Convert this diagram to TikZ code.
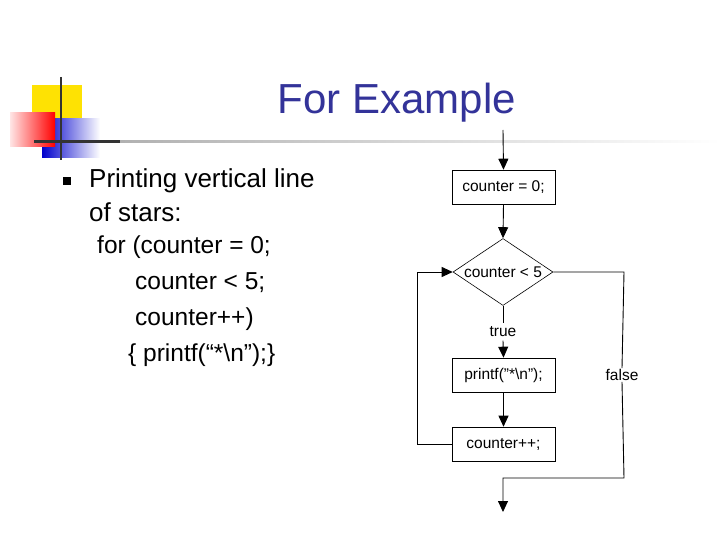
\documentclass[tikz,border=0pt]{standalone}
\usepackage{fontspec}
\setmainfont{Liberation Sans}
\usetikzlibrary{arrows.meta,shapes.geometric}
\definecolor{ttl}{RGB}{51,51,153}
\begin{document}
\begin{tikzpicture}[x=1pt,y=-1pt,
  box/.style={draw,line width=0.6pt,minimum width=103pt,minimum height=34pt,inner sep=0pt,font=\fontsize{15.5}{17}\selectfont},
  dia/.style={draw,diamond,line width=0.6pt,minimum width=100pt,minimum height=67pt,inner sep=0pt,aspect=1.5,font=\fontsize{15.5}{17}\selectfont},
  arr/.style={line width=0.9pt,-{Triangle[length=11pt,width=10pt]}},
  ln/.style={line width=0.9pt},
  lbl/.style={font=\fontsize{15.5}{17}\selectfont}]
\useasboundingbox (0,0) rectangle (720,540);
% logo
\fill[yellow!85!orange] (32,85) rectangle (82,118);
\shade[left color=blue!80!black,right color=white] (42,119) rectangle (100,158);
\shade[left color=red!10,right color=red] (10,113) rectangle (55,147);
\shade[left color=gray!70,right color=white] (34,140.5) rectangle (720,142.5);
\draw[line width=2.5pt,black!80] (34,141.5) -- (120,141.5);
\draw[line width=2.5pt,black!80] (61,77) -- (61,160);
% title
\node[ttl,font=\fontsize{42}{46}\selectfont] (title) at (397,103) {For Example};
\fill[black] (63,177) rectangle (71,185);
\node[anchor=west,align=left,font=\fontsize{26}{34}\selectfont,inner sep=0pt] (t1) at (89,195) {Printing vertical line\\of stars:};
\node[anchor=north west,align=left,font=\fontsize{24.5}{36}\selectfont,inner sep=0pt] (t2) at (97,236)
 {for (counter = 0;\\\hspace*{38pt}counter < 5;\\\hspace*{38pt}counter++)\\\hspace*{31pt}\{ printf(“*\textbackslash n”);\}};
% flowchart
\coordinate (top) at (503,130);
\node[box] (b1) at (503.5,187) {counter = 0;};
\node[dia] (d) at (503,272) {counter < 5};
\node[box] (b2) at (503.5,375) {printf("*\textbackslash n");};
\node[box] (b3) at (503.5,444) {counter++;};
\node[lbl] (tr) at (503,332) {true};
\node[lbl,fill=white,inner sep=1pt] (fa) at (622,375) {false};
\coordinate (bot) at (503,512);
\draw[arr] (top) -- (b1.north);
\draw[arr] (b1.south) -- (d.north);
\draw[ln] (d.south) -- (tr.north);
\draw[arr] (tr.south) -- (b2.north);
\draw[arr] (b2.south) -- (b3.north);
\draw[arr] (b3.west) -- (417,444) -- (417,272) -- (d.west);
\draw[ln] (d.east) -- (624,272) -- (fa.north);
\draw[arr] (fa.south) -- (624,478) -- (503,478) -- (bot);
\end{tikzpicture}
\end{document}
